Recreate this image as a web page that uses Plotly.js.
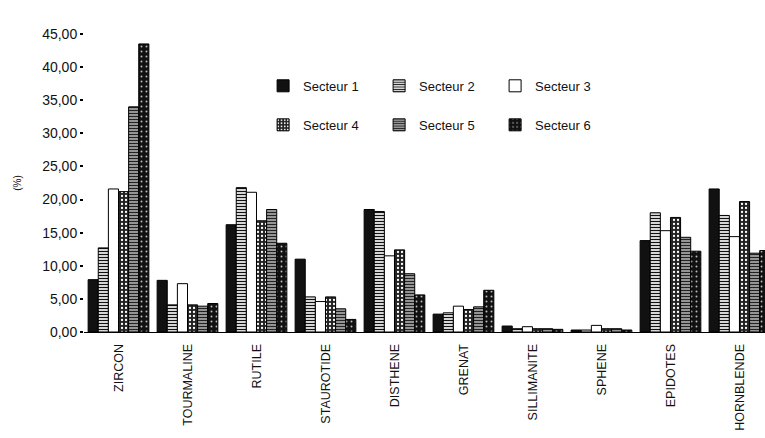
<!DOCTYPE html>
<html><head><meta charset="utf-8">
<script src="https://cdn.plot.ly/plotly-3.0.1.min.js"></script>
<style>html,body{margin:0;padding:0;background:#fff}#c{width:765px;height:438px}</style>
</head><body><div id="c"></div>
<script>
const categories = ["ZIRCON","TOURMALINE","RUTILE","STAUROTIDE","DISTHENE","GRENAT","SILLIMANITE","SPHENE","EPIDOTES","HORNBLENDE"];
const seriesNames = ["Secteur 1","Secteur 2","Secteur 3","Secteur 4","Secteur 5","Secteur 6"];
const secteur1 = [7.9, 7.8, 16.2, 11.0, 18.5, 2.7, 0.9, 0.3, 13.8, 21.6];
const secteur2 = [12.7, 4.1, 21.8, 5.3, 18.2, 2.9, 0.5, 0.3, 18.0, 17.6];
const secteur3 = [21.6, 7.3, 21.1, 4.6, 11.5, 3.9, 0.8, 1.0, 15.3, 14.4];
const secteur4 = [21.2, 4.1, 16.8, 5.3, 12.4, 3.4, 0.5, 0.5, 17.3, 19.7];
const secteur5 = [34.0, 3.9, 18.5, 3.5, 8.8, 3.8, 0.5, 0.5, 14.3, 11.9];
const secteur6 = [43.5, 4.3, 13.4, 1.9, 5.6, 6.3, 0.4, 0.3, 12.2, 12.3];
const yTicks = [0,5,10,15,20,25,30,35,40,45];

const values = [secteur1, secteur2, secteur3, secteur4, secteur5, secteur6];
const patterns = [
  null,
  {shape:'-', fgcolor:'#111', bgcolor:'#fff', size:3, solidity:0.45, fillmode:'replace'},
  null,
  {shape:'.', fgcolor:'#fff', bgcolor:'#222', size:4, solidity:0.25, fillmode:'replace'},
  {shape:'-', fgcolor:'#222', bgcolor:'#bbb', size:3, solidity:0.5, fillmode:'replace'},
  {shape:'.', fgcolor:'#bbb', bgcolor:'#111', size:5, solidity:0.12, fillmode:'replace'}
];
const colors = ['#111','#fff','#fff','#222','#888','#111'];
const traces = values.map((v,i)=>{
  const m = {color:colors[i], line:{color:'#000', width:1}};
  if (patterns[i]) m.pattern = patterns[i];
  return {type:'bar', x:categories, y:v, name:seriesNames[i], legend: i<3 ? 'legend' : 'legend2', marker:m};
});

const legendBase = {orientation:'h', xanchor:'left', yanchor:'middle', entrywidth:71, entrywidthmode:'pixels',
  font:{size:13}, bgcolor:'rgba(0,0,0,0)', itemclick:false};
const layout = {
  width:765, height:438,
  margin:{l:84, r:0, t:34, b:106, autoexpand:false},
  paper_bgcolor:'#fff', plot_bgcolor:'#fff',
  font:{family:'"Liberation Sans", Arial, sans-serif', color:'#111', size:12},
  separators:', ',
  barmode:'group', bargap:0.12, bargroupgap:0,
  xaxis:{range:[-0.5, 9.37], showline:true, linecolor:'#000', linewidth:1, ticks:'outside', ticklen:6, tickcolor:'rgba(0,0,0,0)',
         tickangle:-90, tickfont:{size:12.5}, showgrid:false, zeroline:false},
  yaxis:{range:[0,45], tickvals:yTicks, tickformat:'.2f', showgrid:false, zeroline:false, showline:false,
         ticks:'outside', ticklen:3, tickwidth:2, tickcolor:'#000', tickfont:{size:14},
         title:{text:'(%)', font:{size:10}, standoff:18}},
  showlegend:true,
  legend:Object.assign({x:0.263, y:0.826}, legendBase),
  legend2:Object.assign({x:0.263, y:0.695}, legendBase)
};
Plotly.newPlot('c', traces, layout, {staticPlot:true, displayModeBar:false});
</script></body></html>
